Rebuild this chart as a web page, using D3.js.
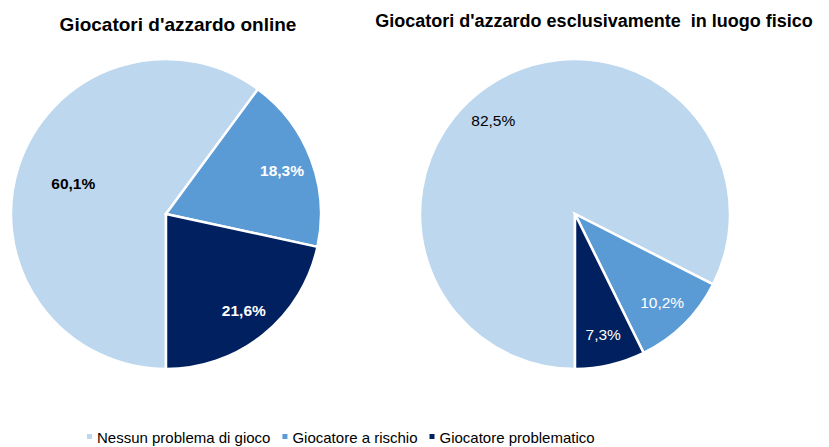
<!DOCTYPE html>
<html>
<head>
<meta charset="utf-8">
<script src="https://cdn.jsdelivr.net/npm/d3@7"></script>
<style>
  body { margin: 0; background: #fff; }
  text { font-family: "Liberation Sans", Arial, sans-serif; }
</style>
</head>
<body>
<div id="chart"></div>
<script>
var categories = ['Nessun problema di gioco', 'Giocatore a rischio', 'Giocatore problematico'],
    colors = ['#bdd7ee', '#5b9bd5', '#002060'],
    labelColors = ['#000', '#fff', '#fff'],
    titles = ["Giocatori d'azzardo online", "Giocatori d'azzardo esclusivamente  in luogo fisico"],
    onlineValues = [60.1, 18.3, 21.6],
    fisicoValues = [82.5, 10.2, 7.3];

var width = 829,
    height = 447,
    radius = 155;

var svg = d3.select('#chart').append('svg')
  .attr('width', width)
  .attr('height', height);

var pie = d3.pie().sort(null).value(function(d) { return d.value; })
  .startAngle(Math.PI).endAngle(3 * Math.PI);

var arc = d3.arc().innerRadius(0).outerRadius(radius);

var fmt = function(v) { return d3.format('.1f')(v).replace('.', ',') + '%'; };

var charts = [
  {title: titles[0], values: onlineValues, cx: 166, cy: 214, tx: 178, ty: 31, ts: 19, bold: true},
  {title: titles[1], values: fisicoValues, cx: 575, cy: 214, tx: 594, ty: 27, ts: 18, bold: false}
];

charts.forEach(function(c) {
  var data = c.values.map(function(v, i) { return {name: categories[i], value: v, i: i}; });

  svg.append('text')
    .attr('x', c.tx).attr('y', c.ty)
    .attr('text-anchor', 'middle')
    .attr('font-size', c.ts)
    .attr('font-weight', 'bold')
    .style('white-space', 'pre')
    .text(c.title);

  var g = svg.append('g').attr('transform', 'translate(' + c.cx + ',' + c.cy + ')');

  g.selectAll('path').data(pie(data)).enter().append('path')
    .attr('d', arc)
    .attr('fill', function(d) { return colors[d.data.i]; })
    .attr('stroke', '#fff')
    .attr('stroke-width', 2.5)
    .attr('stroke-linejoin', 'miter');

  // label placement roughly like Excel's "best fit"
  g.selectAll('text').data(pie(data)).enter().append('text')
    .attr('transform', function(d) {
      var r = (d.data.value > 50 && d.data.value < 70) ? radius * 0.63 : radius * 0.8,
          a = (d.startAngle + d.endAngle) / 2;
      if (d.data.value > 70) a -= 0.17;
      return 'translate(' + (Math.sin(a) * r) + ',' + (-Math.cos(a) * r) + ')';
    })
    .attr('text-anchor', 'middle')
    .attr('dy', '0.35em')
    .attr('font-size', 15.5)
    .attr('font-weight', c.bold ? 'bold' : 'normal')
    .attr('fill', function(d) { return labelColors[d.data.i]; })
    .text(function(d) { return fmt(d.data.value); });
});

// legend
var legend = svg.append('g').attr('transform', 'translate(87,443)'),
    x = 0;

categories.forEach(function(name, i) {
  legend.append('rect')
    .attr('x', x).attr('y', -9)
    .attr('width', 5).attr('height', 5)
    .attr('fill', colors[i]);
  var t = legend.append('text')
    .attr('x', x + 10).attr('y', 0)
    .attr('font-size', 15)
    .attr('fill', '#000')
    .text(name);
  x += 10 + t.node().getComputedTextLength() + 12;
});
</script>
</body>
</html>
